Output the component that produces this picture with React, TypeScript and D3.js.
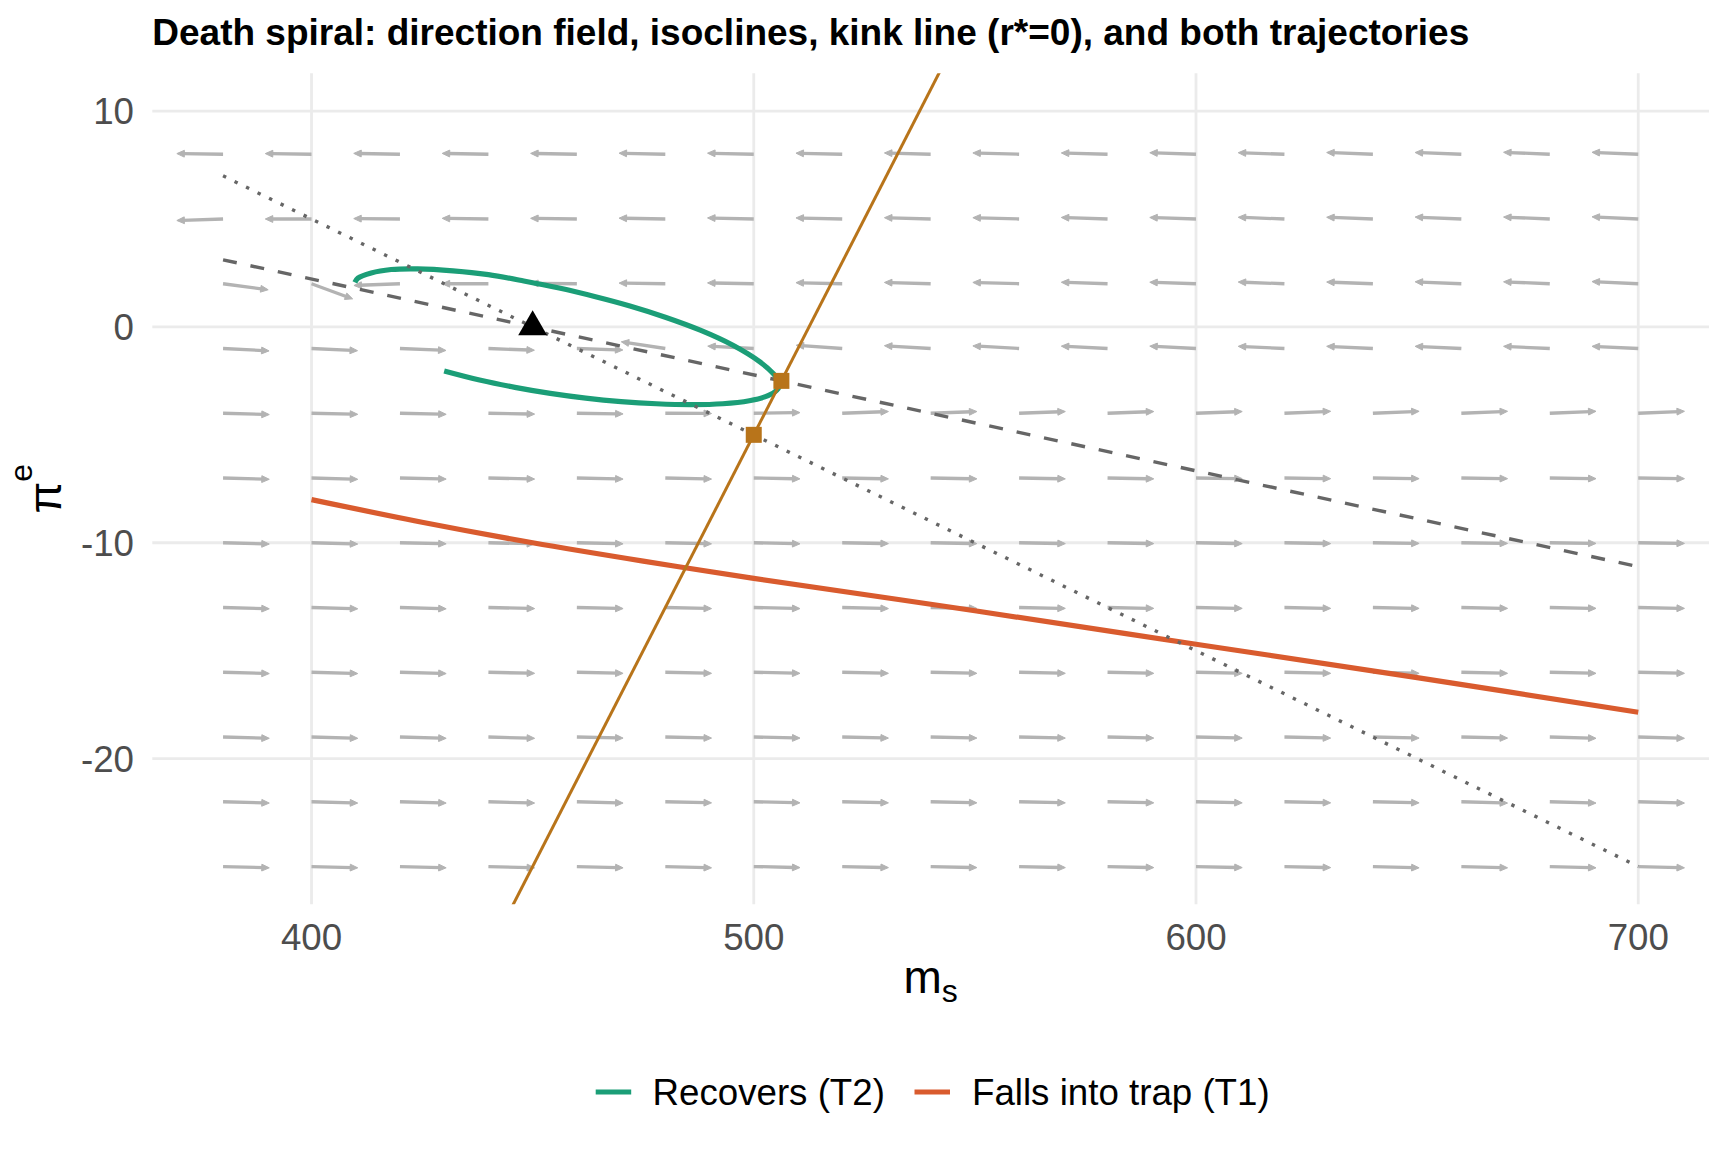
import { useEffect } from 'react'
import * as d3 from 'd3'

const W = 1728
const H = 1152
const FONT = '"Liberation Sans", Arial, Helvetica, sans-serif'

// axis limits (ggplot adds 5% on each side)
const xLimits = [380, 700]
const yLimits = [-25, 10]
const xTicks = [400, 500, 600, 700]
const yTicks = [10, 0, -10, -20]

// direction field grid
const fieldM = [380, 400, 420, 440, 460, 480, 500, 520, 540, 560, 580, 600, 620, 640, 660, 680, 700]
const fieldPi = [8, 5, 2, -1, -4, -7, -10, -13, -16, -19, -22, -25]

// head offset of each arrow from its grid point (m units / pi units), one row per fieldPi
const fieldDm = [
  [-10.45, -10.45, -10.45, -10.45, -10.45, -10.45, -10.45, -10.45, -10.45, -10.45, -10.45, -10.45, -10.45, -10.45, -10.45, -10.45, -10.45],
  [-10.45, -10.45, -10.45, -10.45, -10.45, -10.45, -10.45, -10.45, -10.45, -10.45, -10.45, -10.45, -10.45, -10.45, -10.45, -10.45, -10.45],
  [10.2, 9.3, -10.4, -10.45, -10.45, -10.45, -10.45, -10.45, -10.45, -10.45, -10.45, -10.45, -10.45, -10.45, -10.45, -10.45, -10.45],
  [10.4, 10.4, 10.4, 10.4, 10.4, -9.95, -10.4, -10.4, -10.45, -10.45, -10.45, -10.45, -10.45, -10.45, -10.45, -10.45, -10.45],
  [10.45, 10.45, 10.45, 10.45, 10.45, 10.45, 10.45, 10.45, 10.45, 10.45, 10.45, 10.45, 10.45, 10.45, 10.45, 10.45, 10.45],
  [10.45, 10.45, 10.45, 10.45, 10.45, 10.45, 10.45, 10.45, 10.45, 10.45, 10.45, 10.45, 10.45, 10.45, 10.45, 10.45, 10.45],
  [10.45, 10.45, 10.45, 10.45, 10.45, 10.45, 10.45, 10.45, 10.45, 10.45, 10.45, 10.45, 10.45, 10.45, 10.45, 10.45, 10.45],
  [10.45, 10.45, 10.45, 10.45, 10.45, 10.45, 10.45, 10.45, 10.45, 10.45, 10.45, 10.45, 10.45, 10.45, 10.45, 10.45, 10.45],
  [10.45, 10.45, 10.45, 10.45, 10.45, 10.45, 10.45, 10.45, 10.45, 10.45, 10.45, 10.45, 10.45, 10.45, 10.45, 10.45, 10.45],
  [10.45, 10.45, 10.45, 10.45, 10.45, 10.45, 10.45, 10.45, 10.45, 10.45, 10.45, 10.45, 10.45, 10.45, 10.45, 10.45, 10.45],
  [10.45, 10.45, 10.45, 10.45, 10.45, 10.45, 10.45, 10.45, 10.45, 10.45, 10.45, 10.45, 10.45, 10.45, 10.45, 10.45, 10.45],
  [10.45, 10.45, 10.45, 10.45, 10.45, 10.45, 10.45, 10.45, 10.45, 10.45, 10.45, 10.45, 10.45, 10.45, 10.45, 10.45, 10.45],
]
const fieldDpi = [
  [0.03, 0.03, 0.04, 0.04, 0.04, 0.05, 0.05, 0.05, 0.06, 0.06, 0.06, 0.07, 0.07, 0.08, 0.08, 0.09, 0.09],
  [-0.07, 0.0, 0.02, 0.03, 0.03, 0.04, 0.05, 0.05, 0.06, 0.06, 0.07, 0.07, 0.08, 0.08, 0.09, 0.09, 0.1],
  [-0.28, -0.7, -0.08, 0.0, 0.02, 0.03, 0.04, 0.05, 0.06, 0.06, 0.07, 0.07, 0.08, 0.08, 0.09, 0.09, 0.1],
  [-0.11, -0.1, -0.09, -0.08, -0.07, 0.31, 0.11, 0.15, 0.13, 0.12, 0.11, 0.11, 0.1, 0.1, 0.1, 0.1, 0.1],
  [-0.06, -0.05, -0.05, -0.04, -0.03, -0.01, 0.03, 0.08, 0.08, 0.08, 0.08, 0.08, 0.09, 0.09, 0.09, 0.09, 0.09],
  [-0.06, -0.06, -0.05, -0.05, -0.05, -0.05, -0.04, -0.04, -0.04, -0.04, -0.04, -0.03, -0.03, -0.03, -0.03, -0.03, -0.03],
  [-0.06, -0.06, -0.05, -0.05, -0.05, -0.05, -0.05, -0.04, -0.04, -0.04, -0.04, -0.04, -0.04, -0.03, -0.03, -0.03, -0.03],
  [-0.06, -0.06, -0.06, -0.05, -0.05, -0.05, -0.05, -0.05, -0.04, -0.04, -0.04, -0.04, -0.04, -0.04, -0.04, -0.04, -0.04],
  [-0.06, -0.06, -0.06, -0.05, -0.05, -0.05, -0.05, -0.05, -0.05, -0.05, -0.05, -0.05, -0.05, -0.05, -0.05, -0.05, -0.05],
  [-0.06, -0.06, -0.06, -0.06, -0.05, -0.05, -0.05, -0.05, -0.05, -0.05, -0.05, -0.05, -0.05, -0.05, -0.05, -0.06, -0.06],
  [-0.06, -0.06, -0.06, -0.06, -0.06, -0.05, -0.05, -0.05, -0.05, -0.05, -0.05, -0.05, -0.05, -0.05, -0.06, -0.06, -0.06],
  [-0.06, -0.06, -0.06, -0.06, -0.06, -0.06, -0.05, -0.05, -0.05, -0.05, -0.05, -0.05, -0.05, -0.06, -0.06, -0.06, -0.06],
]

// isoclines and kink line (r* = 0)
const dashedM = [380, 700]
const dashedPi = [3.11, -11.11]
const dottedM = [380, 700]
const dottedPi = [7, -25]
const kinkM = [440, 550]
const kinkPi = [-29, 15]

// trajectories
const t2M = [430, 438, 446, 454, 462, 470, 478, 486, 493, 499, 502.5, 504.8, 505.8, 505.6, 504.4, 501.4, 495.3, 487.9, 480, 472, 464, 456, 448, 440, 432, 424, 418, 413.5, 410.5, 409.8]
const t2Pi = [-2.04, -2.46, -2.8, -3.08, -3.3, -3.46, -3.56, -3.6, -3.56, -3.42, -3.24, -3.0, -2.75, -2.5, -2.16, -1.62, -0.85, -0.15, 0.45, 0.97, 1.41, 1.8, 2.13, 2.42, 2.6, 2.69, 2.66, 2.5, 2.26, 2.06]
const t1M = [400, 425, 450, 475, 500, 550, 600, 650, 700]
const t1Pi = [-8.0, -9.05, -10.0, -10.85, -11.65, -13.15, -14.7, -16.25, -17.85]

// steady states on the kink line and the intended steady state
const eqM = [500, 506.25]
const eqPi = [-5, -2.5]
const startM = [450]
const startPi = [0]

const legendNames = ['Recovers (T2)', 'Falls into trap (T1)']
const legendColors = ['#1B9E77', '#D95B2E']
const kinkColor = '#B8741A'

const panel = { left: 152.3, right: 1709, top: 73.3, bottom: 904.3 }

function expand(lim: number[]) {
  const pad = (lim[1] - lim[0]) * 0.05
  return [lim[0] - pad, lim[1] + pad]
}

export default function App() {
  useEffect(() => {
    document.body.style.margin = '0'
  }, [])

  const x = d3.scaleLinear().domain(expand(xLimits)).range([panel.left, panel.right])
  const y = d3.scaleLinear().domain(expand(yLimits)).range([panel.bottom, panel.top])

  const line = d3.line<[number, number]>().x(d => x(d[0])).y(d => y(d[1]))
  const smooth = d3.line<[number, number]>().x(d => x(d[0])).y(d => y(d[1])).curve(d3.curveCatmullRom.alpha(0.5))
  const zip = (a: number[], b: number[]) => a.map((v, i) => [v, b[i]] as [number, number])

  // arrows of the direction field
  const arrows: { x1: number, y1: number, x2: number, y2: number, head: string }[] = []
  fieldPi.forEach((p, r) => {
    fieldM.forEach((m, c) => {
      const x1 = x(m), y1 = y(p)
      const xt = x(m + fieldDm[r][c]), yt = y(p + fieldDpi[r][c])
      const dx = xt - x1, dy = yt - y1
      const len = Math.hypot(dx, dy)
      const ux = dx / len, uy = dy / len
      const hl = 7.5, hw = 3.4
      const bx = xt - ux * hl, by = yt - uy * hl
      const head = `M${xt},${yt}L${bx - uy * hw},${by + ux * hw}L${bx + uy * hw},${by - ux * hw}Z`
      arrows.push({ x1, y1, x2: bx + ux * 2, y2: by + uy * 2, head })
    })
  })

  const tri = d3.symbol(d3.symbolTriangle, 361)()
  const sq = d3.symbol(d3.symbolSquare, 256)()

  const legendKeyX = [595.7, 914.5]
  const legendTextX = [652.5, 972]
  const legendY = 1092

  return (
    <div style={{ position: 'fixed', left: 0, top: 0 }}>
      <svg width={W} height={H} style={{ display: 'block', background: '#fff' }} fontFamily={FONT}>
        <defs>
          <clipPath id="panel-clip">
            <rect x={panel.left} y={panel.top} width={panel.right - panel.left} height={panel.bottom - panel.top} />
          </clipPath>
        </defs>

        {/* grid */}
        <g stroke="#EBEBEB" strokeWidth={2.8}>
          {xTicks.map(t => (
            <line key={'gx' + t} x1={x(t)} x2={x(t)} y1={panel.top} y2={panel.bottom} />
          ))}
          {yTicks.map(t => (
            <line key={'gy' + t} x1={panel.left} x2={panel.right} y1={y(t)} y2={y(t)} />
          ))}
        </g>

        <g clipPath="url(#panel-clip)">
          {/* direction field */}
          <g>
            {arrows.map((a, i) => (
              <g key={'a' + i}>
                <line x1={a.x1} y1={a.y1} x2={a.x2} y2={a.y2} stroke="#B3B3B3" strokeWidth={3.3} />
                <path d={a.head} fill="#B3B3B3" stroke="#B3B3B3" strokeWidth={1} strokeLinejoin="round" />
              </g>
            ))}
          </g>

          {/* trajectories */}
          <path d={smooth(zip(t2M, t2Pi)) || ''} fill="none" stroke={legendColors[0]} strokeWidth={5.2} />
          <path d={smooth(zip(t1M, t1Pi)) || ''} fill="none" stroke={legendColors[1]} strokeWidth={5.2} />

          {/* isoclines */}
          <path d={line(zip(dashedM, dashedPi)) || ''} fill="none" stroke="#666666" strokeWidth={3.4} strokeDasharray="14 14" />
          <path d={line(zip(dottedM, dottedPi)) || ''} fill="none" stroke="#666666" strokeWidth={3.4} strokeDasharray="3.4 9.4" />

          {/* kink line */}
          <path d={line(zip(kinkM, kinkPi)) || ''} fill="none" stroke={kinkColor} strokeWidth={3} />

          {/* points */}
          {eqM.map((m, i) => (
            <path key={'eq' + i} d={sq || ''} transform={`translate(${x(m)},${y(eqPi[i])})`} fill={kinkColor} />
          ))}
          {startM.map((m, i) => (
            <path key={'st' + i} d={tri || ''} transform={`translate(${x(m)},${y(startPi[i])})`} fill="#000" />
          ))}
        </g>

        {/* axis tick labels */}
        <g fill="#4D4D4D" fontSize={36.7}>
          {xTicks.map(t => (
            <text key={'tx' + t} x={x(t)} y={949.5} textAnchor="middle">{t}</text>
          ))}
          {yTicks.map(t => (
            <text key={'ty' + t} x={134} y={y(t) + 13.2} textAnchor="end">{t}</text>
          ))}
        </g>

        {/* axis titles */}
        <text x={(panel.left + panel.right) / 2} y={992.7} textAnchor="middle" fontSize={46} fill="#000">
          m<tspan fontSize={32} dy={9}>s</tspan>
        </text>
        <text transform={`translate(61,${(panel.top + panel.bottom) / 2}) rotate(-90)`} textAnchor="middle" fontSize={46} fill="#000">
          π<tspan fontSize={32} dy={-29}>e</tspan>
        </text>

        {/* title */}
        <text x={panel.left} y={45} fontSize={37} fontWeight="bold" fill="#000">
          Death spiral: direction field, isoclines, kink line (r*=0), and both trajectories
        </text>

        {/* legend */}
        {legendNames.map((name, i) => (
          <g key={'lg' + i}>
            <line x1={legendKeyX[i]} x2={legendKeyX[i] + 35.5} y1={legendY} y2={legendY} stroke={legendColors[i]} strokeWidth={5.2} />
            <text x={legendTextX[i]} y={legendY + 13.2} fontSize={36.7} fill="#000">{name}</text>
          </g>
        ))}
      </svg>
    </div>
  )
}
